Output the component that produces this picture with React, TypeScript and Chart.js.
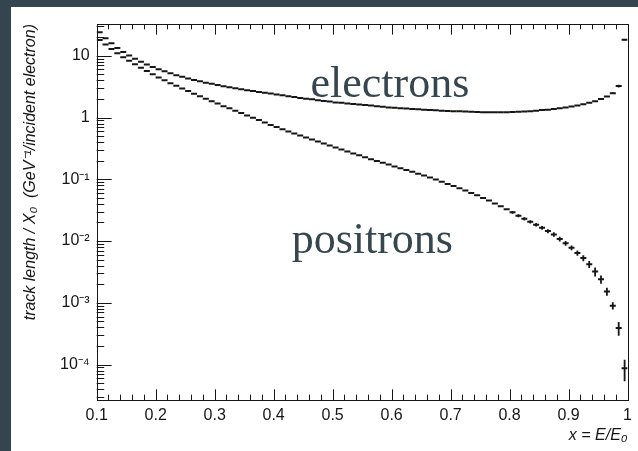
import React, { useEffect, useRef } from "react";
import { Chart, registerables } from "chart.js";
Chart.register(...registerables);

const binCenters = [
  0.105, 0.115, 0.125, 0.135, 0.145, 0.155, 0.165, 0.175, 0.185, 0.195,
  0.205, 0.215, 0.225, 0.235, 0.245, 0.255, 0.265, 0.275, 0.285, 0.295,
  0.305, 0.315, 0.325, 0.335, 0.345, 0.355, 0.365, 0.375, 0.385, 0.395,
  0.405, 0.415, 0.425, 0.435, 0.445, 0.455, 0.465, 0.475, 0.485, 0.495,
  0.505, 0.515, 0.525, 0.535, 0.545, 0.555, 0.565, 0.575, 0.585, 0.595,
  0.605, 0.615, 0.625, 0.635, 0.645, 0.655, 0.665, 0.675, 0.685, 0.695,
  0.705, 0.715, 0.725, 0.735, 0.745, 0.755, 0.765, 0.775, 0.785, 0.795,
  0.805, 0.815, 0.825, 0.835, 0.845, 0.855, 0.865, 0.875, 0.885, 0.895,
  0.905, 0.915, 0.925, 0.935, 0.945, 0.955, 0.965, 0.975, 0.985, 0.995,
];

const electrons = [
  24.0, 19.2, 15.9, 13.4, 11.5, 10.1, 8.93, 8.0, 7.23, 6.59,
  6.05, 5.6, 5.2, 4.86, 4.56, 4.3, 4.06, 3.86, 3.67, 3.51,
  3.35, 3.21, 3.09, 2.97, 2.86, 2.77, 2.68, 2.59, 2.52, 2.44,
  2.36, 2.29, 2.21, 2.15, 2.08, 2.02, 1.97, 1.91, 1.86, 1.81,
  1.76, 1.73, 1.69, 1.66, 1.62, 1.59, 1.56, 1.52, 1.49, 1.46,
  1.44, 1.42, 1.4, 1.38, 1.36, 1.34, 1.32, 1.31, 1.29, 1.28,
  1.27, 1.26, 1.25, 1.24, 1.23, 1.22, 1.22, 1.22, 1.22, 1.22,
  1.23, 1.24, 1.25, 1.27, 1.29, 1.32, 1.34, 1.37, 1.41, 1.46,
  1.51, 1.57, 1.64, 1.73, 1.84, 1.99, 2.19, 2.48, 3.24, 18.2,
];

const positrons = [
  18.0, 15.2, 12.9, 11.0, 9.5, 8.3, 7.3, 6.4, 5.65, 5.0,
  4.47, 4.0, 3.6, 3.27, 2.95, 2.68, 2.43, 2.21, 2.02, 1.84,
  1.68, 1.53, 1.41, 1.29, 1.18, 1.08, 0.99, 0.91, 0.83, 0.76,
  0.7, 0.645, 0.596, 0.552, 0.513, 0.476, 0.443, 0.411, 0.381, 0.353,
  0.327, 0.303, 0.282, 0.262, 0.244, 0.228, 0.212, 0.198, 0.185, 0.173,
  0.161, 0.151, 0.141, 0.132, 0.123, 0.115, 0.107, 0.099, 0.091, 0.084,
  0.078, 0.0715, 0.0656, 0.06, 0.055, 0.05, 0.0452, 0.0407, 0.0366, 0.0327,
  0.0292, 0.0258, 0.023, 0.0205, 0.0184, 0.0164, 0.0145, 0.0128, 0.0108, 0.0092,
  0.0078, 0.0064, 0.0053, 0.0042, 0.0032, 0.0024, 0.00153, 0.0009, 0.00039, 0.000087,
];

// relative statistical errors (fraction of value), only visible in the last bins
const electronRelErr = [
  0, 0, 0, 0, 0, 0, 0, 0, 0, 0,
  0, 0, 0, 0, 0, 0, 0, 0, 0, 0,
  0, 0, 0, 0, 0, 0, 0, 0, 0, 0,
  0, 0, 0, 0, 0, 0, 0, 0, 0, 0,
  0, 0, 0, 0, 0, 0, 0, 0, 0, 0,
  0, 0, 0, 0, 0, 0, 0, 0, 0, 0,
  0, 0, 0, 0, 0, 0, 0, 0, 0, 0,
  0, 0, 0, 0, 0, 0, 0, 0, 0, 0,
  0, 0, 0, 0, 0, 0, 0.02, 0.03, 0.05, 0.03,
];

const positronRelErr = [
  0, 0, 0, 0, 0, 0, 0, 0, 0, 0,
  0, 0, 0, 0, 0, 0, 0, 0, 0, 0,
  0, 0, 0, 0, 0, 0, 0, 0, 0, 0,
  0, 0, 0, 0, 0, 0, 0, 0, 0, 0,
  0, 0, 0, 0, 0, 0, 0, 0, 0, 0,
  0, 0, 0, 0, 0, 0, 0, 0, 0, 0,
  0, 0, 0, 0, 0, 0, 0, 0, 0, 0,
  0.05, 0.055, 0.06, 0.06, 0.065, 0.07, 0.075, 0.08, 0.085, 0.09,
  0.09, 0.1, 0.11, 0.13, 0.17, 0.15, 0.15, 0.13, 0.25, 0.38,
];

const xTickValues = [0.1, 0.2, 0.3, 0.4, 0.5, 0.6, 0.7, 0.8, 0.9, 1];
const xTickLabels = ["0.1", "0.2", "0.3", "0.4", "0.5", "0.6", "0.7", "0.8", "0.9", "1"];
const yTickValues = [1e-4, 1e-3, 1e-2, 1e-1, 1, 10];
const yTickLabels = ["10\u207B\u2074", "10\u207B\u00B3", "10\u207B\u00B2", "10\u207B\u00B9", "1", "10"];

const curveLabels = ["electrons", "positrons"];
const curveLabelX = [0.4625, 0.4305];
const curveLabelY = [2.14, 0.0065];

const xTitle = "x = E/E\u2080";
const yTitle = "track length / X\u2080  (GeV\u207B\u00B9/incident electron)";

const SANS = "'Liberation Sans', Arial, Helvetica, sans-serif";
const INK = "#161616";

const histPlugin = {
  id: "rootFrame",
  afterDatasetsDraw(chart: any) {
    const { ctx, chartArea } = chart;
    const xs = chart.scales.x;
    const ys = chart.scales.y;
    const errs = [electronRelErr, positronRelErr];
    const vals = [electrons, positrons];
    ctx.save();
    ctx.beginPath();
    ctx.rect(chartArea.left, chartArea.top, chartArea.right - chartArea.left, chartArea.bottom - chartArea.top);
    ctx.clip();
    ctx.strokeStyle = INK;
    ctx.lineWidth = 1.8;
    for (let s = 0; s < 2; s++) {
      for (let i = 0; i < binCenters.length; i++) {
        const r = errs[s][i];
        if (!r) continue;
        const v = vals[s][i];
        const px = xs.getPixelForValue(binCenters[i]);
        const y1 = ys.getPixelForValue(v * (1 + r));
        const y2 = ys.getPixelForValue(v * (1 - r));
        ctx.beginPath();
        ctx.moveTo(px, y1);
        ctx.lineTo(px, y2);
        ctx.stroke();
      }
    }
    ctx.restore();
  },
  afterDraw(chart: any) {
    const { ctx, chartArea } = chart;
    const xs = chart.scales.x;
    const ys = chart.scales.y;
    const { left, right, top, bottom } = chartArea;
    ctx.save();
    ctx.strokeStyle = INK;
    ctx.lineWidth = 1;
    ctx.strokeRect(Math.round(left) + 0.5, Math.round(top) + 0.5, Math.round(right - left), Math.round(bottom - top));
    ctx.beginPath();
    for (let d = -6; d <= 2; d++) {
      for (let k = 1; k <= 9; k++) {
        const v = k * Math.pow(10, d);
        if (v < ys.min || v > ys.max) continue;
        const py = Math.round(ys.getPixelForValue(v)) + 0.5;
        const len = k === 1 ? 15 : 7.5;
        ctx.moveTo(left, py);
        ctx.lineTo(left + len, py);
      }
    }
    for (let j = 0; j <= 45; j++) {
      const v = 0.1 + j * 0.02;
      if (v > 1.0001) continue;
      const px = Math.round(xs.getPixelForValue(v)) + 0.5;
      ctx.moveTo(px, bottom);
      ctx.lineTo(px, bottom - 5.3);
      ctx.moveTo(px, top);
      ctx.lineTo(px, top + 5.3);
    }
    for (const v of xTickValues) {
      const px = Math.round(xs.getPixelForValue(v)) + 0.5;
      ctx.moveTo(px, bottom);
      ctx.lineTo(px, bottom - 10.7);
      ctx.moveTo(px, top);
      ctx.lineTo(px, top + 10.7);
    }
    ctx.stroke();

    ctx.fillStyle = "#36464f";
    ctx.font = "44px 'Liberation Serif', 'Times New Roman', serif";
    ctx.textBaseline = "alphabetic";
    ctx.textAlign = "left";
    for (let i = 0; i < curveLabels.length; i++) {
      ctx.fillText(curveLabels[i], xs.getPixelForValue(curveLabelX[i]), ys.getPixelForValue(curveLabelY[i]));
    }
    ctx.restore();
  },
};

export default function App() {
  const ref = useRef<HTMLCanvasElement | null>(null);

  useEffect(() => {
    if (!ref.current) return;
    const mk = (label: string, values: number[]) => ({
      label,
      data: binCenters.map((x, i) => ({ x, y: values[i] })),
      pointStyle: "line",
      pointRadius: 3,
      pointHoverRadius: 3,
      pointBorderWidth: 2,
      borderColor: INK,
      backgroundColor: INK,
      showLine: false,
    });
    const chart = new Chart(ref.current, {
      type: "scatter",
      data: { datasets: [mk("electrons", electrons), mk("positrons", positrons)] },
      options: {
        animation: false,
        responsive: false,
        devicePixelRatio: 1,
        events: [],
        layout: { padding: { top: 24, right: 6.7, left: 0, bottom: 0 } },
        plugins: { legend: { display: false }, tooltip: { enabled: false } },
        scales: {
          x: {
            type: "linear",
            position: "bottom",
            min: 0.1,
            max: 1,
            bounds: "data",
            grid: { display: false, drawTicks: false },
            border: { display: false },
            afterBuildTicks: (s: any) => {
              s.ticks = xTickValues.map((v) => ({ value: v }));
            },
            afterFit: (s: any) => {
              s.height = 51;
            },
            ticks: {
              autoSkip: false,
              maxRotation: 0,
              padding: 6,
              color: INK,
              font: { family: SANS, size: 16 },
              callback: (v: any) => {
                const i = xTickValues.findIndex((t) => Math.abs(t - Number(v)) < 1e-6);
                return i >= 0 ? xTickLabels[i] : "";
              },
            },
            title: {
              display: true,
              text: xTitle,
              align: "end",
              color: INK,
              font: { family: SANS, size: 16, style: "italic" },
              padding: { top: 0, bottom: 6 },
            },
          },
          y: {
            type: "logarithmic",
            position: "left",
            min: 2.67e-5,
            max: 32.7,
            bounds: "data",
            grid: { display: false, drawTicks: false },
            border: { display: false },
            afterBuildTicks: (s: any) => {
              s.ticks = yTickValues.map((v) => ({ value: v }));
            },
            afterFit: (s: any) => {
              s.width = 96.7;
            },
            ticks: {
              autoSkip: false,
              padding: 7,
              color: INK,
              font: { family: SANS, size: 16 },
              callback: (v: any) => {
                const i = yTickValues.findIndex((t) => Math.abs(Math.log10(t) - Math.log10(Number(v))) < 1e-6);
                return i >= 0 ? yTickLabels[i] : "";
              },
            },
            title: {
              display: true,
              text: yTitle,
              align: "end",
              color: INK,
              font: { family: SANS, size: 16, style: "italic" },
              padding: { top: 21, bottom: 0 },
            },
          },
        },
      } as any,
      plugins: [histPlugin],
    });
    return () => chart.destroy();
  }, []);

  return (
    <div style={{ position: "fixed", left: 0, top: 0, width: 638, height: 451, background: "#344550", overflow: "hidden" }}>
      <div style={{ position: "absolute", left: 11, top: 7, width: 627, height: 444, background: "#ffffff" }} />
      <canvas ref={ref} width={638} height={451} style={{ position: "absolute", left: 0, top: 0, width: 638, height: 451 }} />
    </div>
  );
}
